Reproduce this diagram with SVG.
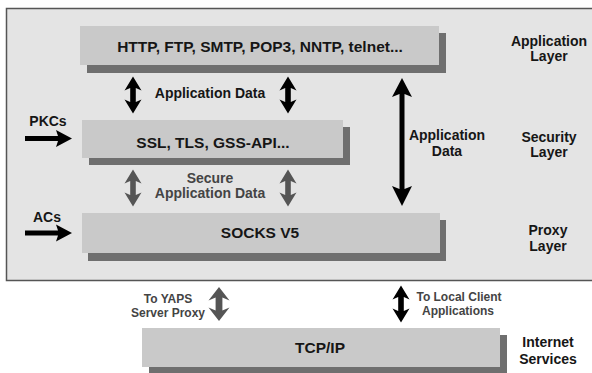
<svg xmlns="http://www.w3.org/2000/svg" width="592" height="373" viewBox="0 0 592 373">
  <defs>
    <style>
      text { font-family: "Liberation Sans", Arial, sans-serif; font-weight: bold; fill: #161616; text-anchor: middle; }
      .t15 { font-size: 15.5px; }
      .t14 { font-size: 14px; }
      .t12 { font-size: 12px; }
      .box { fill: #c9c9c9; }
      .shadow { fill: #6f6f6f; }
      .blk { fill: #000; }
      .gry { fill: #555; }
      .grytxt { fill: #444; }
    </style>
    <!-- double-headed arrow, centred on origin, 36 high -->
    <path id="dbl" d="M0,-18.5 L8.5,-4.5 L2.8,-7 L2.8,7 L8.5,4.5 L0,18.5 L-8.5,4.5 L-2.8,7 L-2.8,-7 L-8.5,-4.5 Z"/>
    <!-- wider variant for the link below the panel -->
    <path id="dblw" d="M0,-17 L10.5,-3.5 L3.4,-6.5 L3.4,6.5 L10.5,3.5 L0,17 L-10.5,3.5 L-3.4,6.5 L-3.4,-6.5 L-10.5,-3.5 Z"/>
  </defs>

  <rect width="592" height="373" fill="#fff"/>

  <!-- client host panel -->
  <rect id="panel" x="6.5" y="8.5" width="590" height="272" fill="#e4e4e4" stroke="#555" stroke-width="1.5"/>

  <!-- layer nodes -->
  <g id="app">
    <rect class="shadow" x="87" y="33" width="359" height="40"/>
    <rect class="box" x="80" y="26" width="359" height="39"/>
    <text class="t15" x="260" y="52">HTTP, FTP, SMTP, POP3, NNTP, telnet...</text>
  </g>
  <g id="sec">
    <rect class="shadow" x="89" y="127" width="261" height="38"/>
    <rect class="box" x="82" y="120" width="261" height="38"/>
    <text class="t15" x="213" y="148">SSL, TLS, GSS-API...</text>
  </g>
  <g id="proxy">
    <rect class="shadow" x="88" y="220" width="358" height="41"/>
    <rect class="box" x="82" y="213" width="358" height="40"/>
    <text class="t15" x="260" y="238">SOCKS V5</text>
  </g>
  <g id="tcp">
    <rect class="shadow" x="149" y="335" width="358" height="45"/>
    <rect class="box" x="142" y="328" width="358" height="39"/>
    <text class="t15" x="320" y="353">TCP/IP</text>
  </g>

  <!-- layer names -->
  <g id="layer-labels">
    <text class="t14" x="549" y="46">Application</text>
    <text class="t14" x="549" y="61">Layer</text>
    <text class="t14" x="549" y="142">Security</text>
    <text class="t14" x="549" y="157">Layer</text>
    <text class="t14" x="548" y="235">Proxy</text>
    <text class="t14" x="548" y="251">Layer</text>
    <text class="t14" x="548" y="347">Internet</text>
    <text class="t14" x="548" y="364">Services</text>
  </g>

  <!-- connectors -->
  <g id="connectors">
    <use href="#dbl" class="blk" x="133" y="95"/>
    <use href="#dbl" class="blk" x="288" y="95"/>
    <text class="t14" x="210" y="98">Application Data</text>

    <use href="#dbl" class="gry" x="133" y="188"/>
    <use href="#dbl" class="gry" x="288" y="188"/>
    <text class="t14 grytxt" x="210" y="183">Secure</text>
    <text class="t14 grytxt" x="210" y="198">Application Data</text>

    <!-- long application data path -->
    <path class="blk" d="M402,78 L412,97 L404.5,94 L404.5,189 L412,186 L402,206 L392,186 L399.5,189 L399.5,94 L392,97 Z"/>
    <text class="t14" x="447" y="140">Application</text>
    <text class="t14" x="447" y="156">Data</text>

    <!-- credential inputs -->
    <text class="t14" x="48" y="126">PKCs</text>
    <path class="blk" d="M25,136 L58,136 L56,130 L72,138.5 L56,147 L58,141 L25,141 Z"/>
    <text class="t14" x="47" y="222">ACs</text>
    <path class="blk" d="M25,230.5 L58,230.5 L56,224.5 L72,233 L56,241.5 L58,235.5 L25,235.5 Z"/>

    <!-- links to TCP/IP -->
    <use href="#dblw" class="gry" x="219" y="304"/>
    <text class="t12 grytxt" x="168" y="303">To YAPS</text>
    <text class="t12 grytxt" x="168" y="317">Server Proxy</text>
    <use href="#dbl" class="blk" x="401" y="304"/>
    <text class="t12 grytxt" x="459" y="301">To Local Client</text>
    <text class="t12 grytxt" x="458" y="315">Applications</text>
  </g>
</svg>
